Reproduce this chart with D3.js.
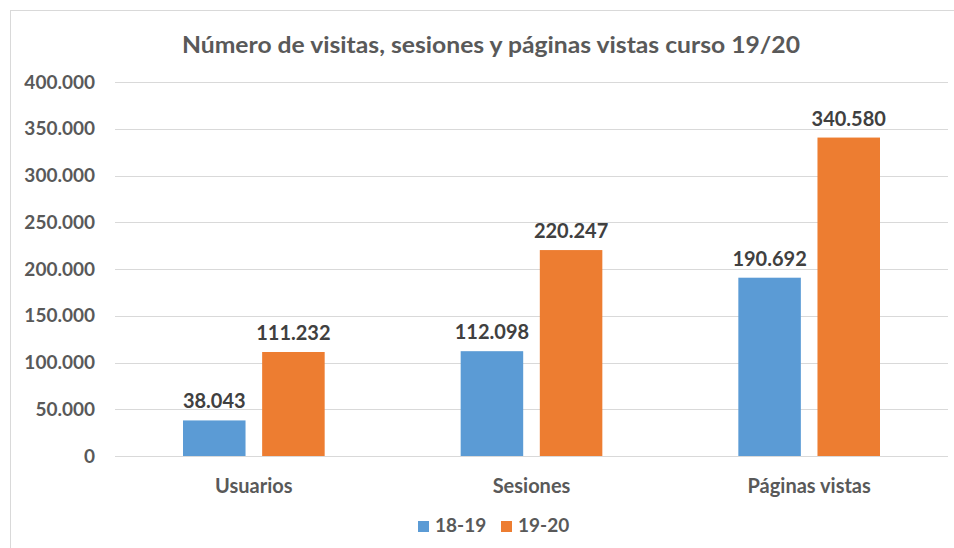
<!DOCTYPE html>
<html>
<head>
<meta charset="utf-8">
<script src="https://cdn.jsdelivr.net/npm/d3@7"></script>
<style>
  body { margin: 0; background: #fff; }
  svg text { font-family: Lato, "Open Sans", sans-serif; fill: #595959; }
</style>
</head>
<body>
<svg></svg>
<script>
let categories = ['Usuarios', 'Sesiones', 'Páginas vistas']
let seriesNames = ['18-19', '19-20']
let values1819 = [38043, 112098, 190692]
let values1920 = [111232, 220247, 340580]
let yTicks = [0, 50000, 100000, 150000, 200000, 250000, 300000, 350000, 400000]
let colors = ['#5b9bd5', '#ed7d31']

let width = 954
let height = 548
let plotLeft = 115
let plotRight = 948
let plotTop = 82
let plotBottom = 456

let fmt = (v) => d3.format(',')(v).replace(/,/g, '.')

let svg = d3.select('svg')
  .attr('width', width)
  .attr('height', height)

// chart border (Excel style)
svg.append('rect')
  .attr('x', 10.5).attr('y', 10.5)
  .attr('width', 960).attr('height', 560)
  .attr('fill', 'none')
  .attr('stroke', '#d9d9d9')

let xScale = d3.scaleBand()
  .domain(categories)
  .range([plotLeft, plotRight])

let step = xScale.bandwidth()
let innerScale = d3.scaleBand()
  .domain(seriesNames)
  .range([68, step - 68])
  .paddingInner(0.21)

let yScale = d3.scaleLinear()
  .domain([0, 400000])
  .range([plotBottom, plotTop])

// gridlines
svg.append('g')
  .selectAll('line')
  .data(yTicks)
  .enter()
  .append('line')
  .attr('x1', plotLeft)
  .attr('x2', plotRight)
  .attr('y1', d => Math.round(yScale(d)) + 0.5)
  .attr('y2', d => Math.round(yScale(d)) + 0.5)
  .attr('stroke', '#d9d9d9')
  .attr('stroke-width', 1)

// y axis labels
let yAxis = d3.axisLeft(yScale)
  .tickValues(yTicks)
  .tickFormat(fmt)
  .tickSize(0)
  .tickPadding(0)

let yG = svg.append('g')
  .attr('transform', 'translate(95,0)')
  .call(yAxis)
yG.select('.domain').remove()
yG.selectAll('text')
  .style('font-size', '19px')
  .style('font-weight', 'bold')
  .attr('fill', '#595959')

// x axis labels
let xAxis = d3.axisBottom(xScale).tickSize(0).tickPadding(0)
let xG = svg.append('g')
  .attr('transform', 'translate(0,' + (plotBottom + 23) + ')')
  .call(xAxis)
xG.select('.domain').remove()
xG.selectAll('text')
  .style('font-size', '20px')
  .style('font-weight', 'bold')
  .attr('fill', '#595959')

// bars
let rows = categories.map((c, i) => ({
  cat: c,
  vals: [
    { s: seriesNames[0], v: values1819[i], color: colors[0] },
    { s: seriesNames[1], v: values1920[i], color: colors[1] }
  ]
}))

let groups = svg.selectAll('.group')
  .data(rows)
  .enter()
  .append('g')
  .attr('class', 'group')
  .attr('transform', d => 'translate(' + xScale(d.cat) + ',0)')

groups.selectAll('rect')
  .data(d => d.vals)
  .enter()
  .append('rect')
  .attr('x', d => innerScale(d.s))
  .attr('width', innerScale.bandwidth())
  .attr('y', d => yScale(d.v))
  .attr('height', d => plotBottom - yScale(d.v))
  .attr('fill', d => d.color)

groups.selectAll('.lbl')
  .data(d => d.vals)
  .enter()
  .append('text')
  .attr('class', 'lbl')
  .attr('x', d => innerScale(d.s) + innerScale.bandwidth() / 2)
  .attr('y', d => yScale(d.v) - 12)
  .attr('text-anchor', 'middle')
  .style('font-size', '20px')
  .style('font-weight', 'bold')
  .style('fill', '#404040')
  .text(d => fmt(d.v))

// title
svg.append('text')
  .attr('x', 491)
  .attr('y', 53)
  .attr('text-anchor', 'middle')
  .attr('textLength', 618)
  .attr('lengthAdjust', 'spacingAndGlyphs')
  .style('font-size', '23px')
  .style('font-weight', 'bold')
  .text('Número de visitas, sesiones y páginas vistas curso 19/20')

// legend
let legendX = [418, 501]
let legend = svg.selectAll('.legend')
  .data(seriesNames)
  .enter()
  .append('g')
  .attr('class', 'legend')
  .attr('transform', (d, i) => 'translate(' + legendX[i] + ',521)')

legend.append('rect')
  .attr('width', 11)
  .attr('height', 11)
  .attr('fill', (d, i) => colors[i])

legend.append('text')
  .attr('x', 17)
  .attr('y', 11)
  .style('font-size', '19px')
  .style('font-weight', 'bold')
  .text(d => d)
</script>
</body>
</html>
